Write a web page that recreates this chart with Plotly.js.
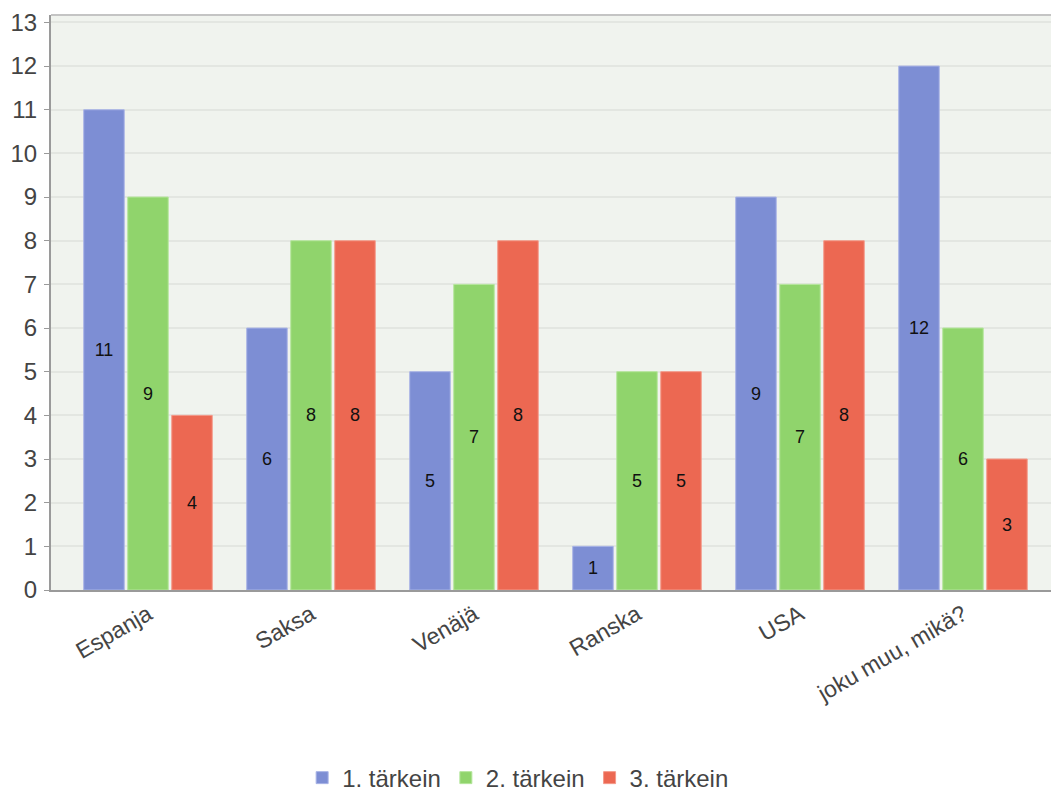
<!DOCTYPE html>
<html><head><meta charset="utf-8">
<script src="https://cdn.plot.ly/plotly-3.0.1.min.js"></script>
<style>body{margin:0;background:#fff}#chart{width:1051px;height:791px}</style>
</head><body><div id="chart"></div>
<script>
const categories = ["Espanja", "Saksa", "Venäjä", "Ranska", "USA", "joku muu, mikä?"];
const seriesNames = ["1. tärkein", "2. tärkein", "3. tärkein"];
const first = [11, 6, 5, 1, 9, 12];
const second = [9, 8, 7, 5, 7, 6];
const third = [4, 8, 8, 5, 8, 3];
const yTicks = [0,1,2,3,4,5,6,7,8,9,10,11,12,13];

const colors = ["#7d8ed4", "#90d46c", "#ec6852"];
const lines = ["#a9b4e6", "#b5e69c", "#f49a8a"];
const data = [first, second, third].map((vals, i) => ({
  type: "bar",
  name: seriesNames[i],
  x: categories,
  y: vals,
  text: vals.map(String),
  textposition: "inside",
  insidetextanchor: "middle",
  textangle: 0,
  textfont: {family: "Liberation Sans, Arial, sans-serif", size: 18, color: "#111"},
  marker: {color: colors[i], line: {color: lines[i], width: 1}},
  hoverinfo: "x+y+name"
}));

const layout = {
  width: 1051, height: 791,
  margin: {l: 51, r: 0, t: 15, b: 201, autoexpand: false},
  paper_bgcolor: "#ffffff",
  plot_bgcolor: "#f0f3ee",
  barmode: "group",
  bargap: 0.19,
  bargroupgap: 0.08,
  font: {family: "Liberation Sans, Arial, sans-serif", color: "#444"},
  xaxis: {
    type: "category",
    range: [-0.595, 5.54],
    tickangle: -30,
    tickfont: {size: 23, color: "#444"},
    showline: true, linecolor: "#9a9a9a", linewidth: 2,
    ticks: "", showgrid: false, zeroline: false
  },
  yaxis: {
    range: [0, 13.17],
    tickvals: yTicks,
    ticktext: yTicks.map(String),
    tickfont: {size: 24, color: "#444"},
    showline: true, linecolor: "#9a9a9a", linewidth: 2,
    ticks: "outside", ticklen: 5, tickcolor: "#9a9a9a",
    ticklabelstandoff: 2,
    gridcolor: "#e3e6e1", gridwidth: 2,
    zeroline: false
  },
  shapes: [{type: "line", xref: "paper", yref: "paper", x0: 0, x1: 1, y0: 1, y1: 1,
            line: {color: "#c4c4c4", width: 2}}],
  legend: {
    orientation: "h", xref: "container", x: 0.493, xanchor: "center", y: -0.327, yanchor: "middle",
    font: {size: 24, color: "#444"}, itemwidth: 30, tracegroupgap: 0
  },
  showlegend: true
};
Plotly.newPlot("chart", data, layout, {displayModeBar: false});
</script></body></html>
